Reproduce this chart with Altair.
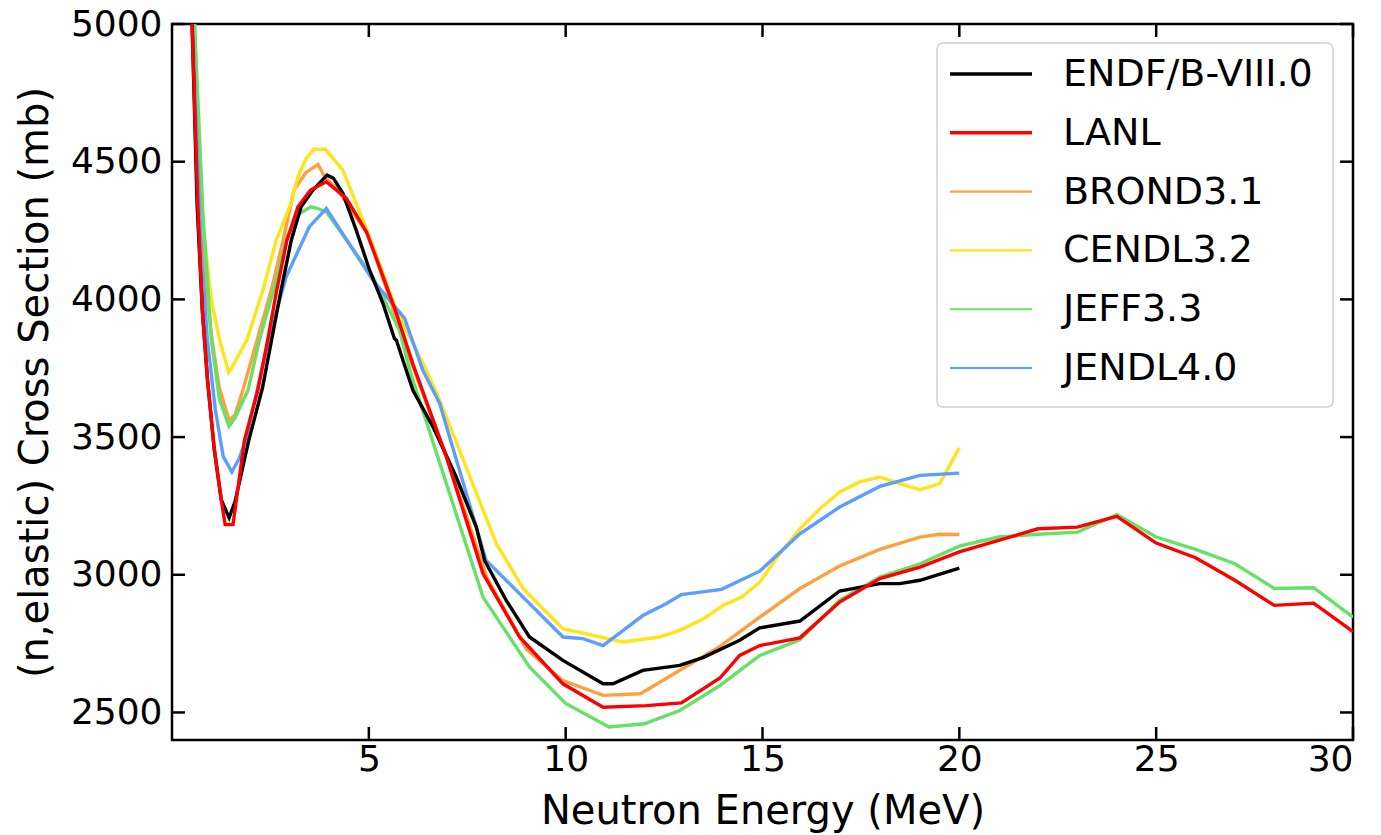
import altair as alt
import pandas as pd

# ---------------- data ----------------
names = ["ENDF/B-VIII.0", "LANL", "BROND3.1", "CENDL3.2", "JEFF3.3", "JENDL4.0"]
colors = ["#000000", "#ff0000", "#ffa040", "#ffe41a", "#66e066", "#5c9dff"]
widths = [3.4, 3.4, 2.1, 2.1, 2.1, 2.1]

endf_e = [0.40, 0.51, 0.64, 0.77, 0.90, 1.07, 1.25, 1.45, 1.60, 1.95, 2.30, 2.77, 3.03, 3.28,
          3.58, 3.94, 4.10, 4.34, 4.68, 5.02, 5.36, 5.65, 5.70, 5.95, 6.12, 6.63, 7.22, 7.73,
          7.94, 8.49, 9.08, 9.93, 10.95, 11.20, 11.96, 12.90, 13.50, 14.42, 14.93, 15.95,
          16.96, 17.98, 18.49, 19.00, 20.00]
endf_xs = [5350, 5000, 4336, 3961, 3711, 3460, 3273, 3207, 3265, 3488, 3680, 4033, 4215, 4336,
           4397, 4451, 4440, 4385, 4251, 4106, 3985, 3858, 3852, 3743, 3670, 3537, 3355, 3173,
           3052, 2907, 2774, 2689, 2604, 2604, 2653, 2671, 2700, 2762, 2807, 2832,
           2941, 2968, 2968, 2980, 3024]

lanl_e = [0.40, 0.51, 0.66, 0.77, 0.90, 1.07, 1.25, 1.35, 1.55, 1.84, 2.18, 2.43, 2.66, 2.92,
          3.20, 3.52, 3.92, 4.43, 4.94, 5.27, 5.70, 6.12, 6.97, 7.90, 8.83, 9.93, 10.95, 12.05,
          12.94, 13.92, 14.42, 14.93, 15.95, 16.96, 17.98, 19.00, 20.00, 21.00, 22.00, 23.00,
          24.00, 25.00, 26.00, 27.00, 28.00, 29.00, 30.00]
lanl_xs = [5400, 5000, 4324, 3961, 3711, 3460, 3273, 3182, 3182, 3488, 3670, 3852, 4033, 4215,
           4336, 4397, 4427, 4367, 4245, 4118, 3949, 3765, 3428, 3004, 2774, 2604, 2519, 2525,
           2535, 2625, 2707, 2743, 2771, 2901, 2986, 3028, 3083, 3125, 3167, 3173,
           3212, 3115, 3062, 2980, 2889, 2897, 2794]

brond_e = [0.45, 0.57, 0.70, 0.85, 1.02, 1.20, 1.45, 1.60, 1.80, 2.16, 2.52, 2.80, 3.10, 3.40,
           3.71, 3.90, 4.20, 5.00, 6.00, 7.00, 8.00, 9.00, 9.93, 10.95, 11.90, 12.90, 13.92,
           14.93, 15.95, 16.96, 17.98, 19.00, 19.50, 20.00]
brond_xs = [5300, 5000, 4400, 4050, 3852, 3680, 3561, 3580, 3670, 3852, 4033, 4200, 4397, 4460,
            4490, 4440, 4400, 4230, 3800, 3420, 2990, 2730, 2616, 2562, 2568, 2653, 2740,
            2846, 2950, 3032, 3092, 3137, 3147, 3146]

cendl_e = [0.45, 0.57, 0.80, 1.00, 1.21, 1.44, 1.55, 1.90, 2.31, 2.65, 3.00, 3.20, 3.40, 3.60,
           3.90, 4.10, 4.34, 5.02, 5.70, 6.46, 6.80, 8.24, 8.92, 9.93, 11.45, 12.38, 12.90,
           13.50, 14.00, 14.47, 14.93, 15.44, 15.95, 16.46, 16.96, 17.47, 17.98, 18.49, 19.00,
           19.50, 20.00]
cendl_xs = [5400, 5000, 4250, 4000, 3852, 3735, 3760, 3852, 4033, 4215, 4340, 4445, 4510, 4545,
            4545, 4510, 4469, 4227, 3961, 3743, 3634, 3113, 2950, 2804, 2756, 2774, 2798,
            2840, 2889, 2919, 2973, 3077, 3167, 3240, 3301, 3337, 3355, 3331, 3309,
            3331, 3461]

jeff_e = [0.45, 0.57, 0.78, 1.00, 1.20, 1.45, 1.60, 1.93, 2.22, 2.58, 2.92, 3.24, 3.53, 3.70,
          3.92, 5.10, 5.78, 6.04, 6.37, 7.90, 9.08, 10.00, 11.10, 12.00, 12.90, 13.92, 14.93,
          15.95, 16.96, 17.98, 19.00, 20.00, 21.00, 22.00, 23.00, 24.00, 25.00, 26.00, 27.00,
          28.00, 29.00, 30.00]
jeff_xs = [5450, 5000, 4324, 3852, 3640, 3539, 3570, 3670, 3852, 4033, 4227, 4312, 4336, 4330,
           4318, 4082, 3888, 3743, 3597, 2919, 2665, 2533, 2447, 2459, 2507, 2598, 2707,
           2764, 2907, 2992, 3040, 3104, 3137, 3147, 3155, 3218, 3137, 3092, 3040,
           2950, 2953, 2846]

jendl_e = [0.40, 0.52, 0.65, 0.75, 0.90, 1.10, 1.30, 1.52, 1.70, 1.87, 2.45, 2.90, 3.49, 3.92,
           5.10, 5.91, 6.37, 6.80, 7.98, 9.00, 9.93, 10.44, 10.95, 11.96, 12.55, 12.94, 13.96,
           14.93, 15.95, 16.96, 17.98, 19.00, 20.00]
jendl_xs = [5400, 5000, 4500, 4150, 3852, 3600, 3430, 3373, 3420, 3488, 3852, 4082, 4264, 4330,
            4070, 3931, 3743, 3622, 3052, 2907, 2774, 2768, 2743, 2852, 2895, 2928, 2947,
            3013, 3149, 3246, 3321, 3361, 3369]

x_ticks = [5, 10, 15, 20, 25, 30]
y_ticks = [2500, 3000, 3500, 4000, 4500, 5000]

# ---------------- build tables ----------------
series = [
    (names[0], endf_e, endf_xs),
    (names[1], lanl_e, lanl_xs),
    (names[2], brond_e, brond_xs),
    (names[3], cendl_e, cendl_xs),
    (names[4], jeff_e, jeff_xs),
    (names[5], jendl_e, jendl_xs),
]
rows = []
for name, es, vs in series:
    for i, (e, v) in enumerate(zip(es, vs)):
        rows.append({"lib": name, "E": e, "xs": v, "order": i})
df = pd.DataFrame(rows)

W, H = 1181, 716
TL = 13
FONT = "DejaVu Sans"

xscale = alt.Scale(domain=[0, 30], nice=False, zero=False)
yscale = alt.Scale(domain=[2400, 5000], nice=False, zero=False)
cscale = alt.Scale(domain=names, range=colors)
wscale = alt.Scale(domain=names, range=widths)

xaxis = alt.Axis(values=x_ticks, format="d", title="Neutron Energy (MeV)", ticks=False,
                 domain=False, grid=False, labelFontSize=36, titleFontSize=40,
                 labelPadding=2, titlePadding=14, labelColor="black", titleColor="black",
                 labelFont=FONT, titleFont=FONT, titleFontWeight="normal")
yaxis = alt.Axis(values=y_ticks, format="d", title="(n,elastic) Cross Section (mb)",
                 ticks=False, domain=False, grid=False, labelFontSize=36, titleFontSize=40,
                 labelPadding=10, titlePadding=15, labelColor="black", titleColor="black",
                 labelFont=FONT, titleFont=FONT, titleFontWeight="normal")


def lines(sub):
    return alt.Chart(df[df["lib"].isin(sub)]).mark_line(clip=True).encode(
        x=alt.X("E:Q", scale=xscale, axis=xaxis),
        y=alt.Y("xs:Q", scale=yscale, axis=yaxis),
        color=alt.Color("lib:N", scale=cscale, legend=None),
        strokeWidth=alt.StrokeWidth("lib:N", scale=wscale, legend=None),
        detail="lib:N",
        order="order:Q",
    )


thin = lines(names[2:])
black = lines([names[0]])
red = lines([names[1]])

xt = pd.DataFrame({"t": x_ticks})
yt = pd.DataFrame({"t": y_ticks})
tick_style = dict(color="black", strokeWidth=2.5)

xb = alt.Chart(xt).mark_rule(**tick_style).encode(
    x=alt.X("t:Q", scale=xscale, axis=xaxis), y=alt.value(H - TL), y2=alt.value(H))
xtop = alt.Chart(xt).mark_rule(**tick_style).encode(
    x=alt.X("t:Q", scale=xscale, axis=xaxis), y=alt.value(0), y2=alt.value(TL))
yl = alt.Chart(yt).mark_rule(**tick_style).encode(
    y=alt.Y("t:Q", scale=yscale, axis=yaxis), x=alt.value(0), x2=alt.value(TL))
yr = alt.Chart(yt).mark_rule(**tick_style).encode(
    y=alt.Y("t:Q", scale=yscale, axis=yaxis), x=alt.value(W - TL), x2=alt.value(W))

# ---------------- legend (matplotlib-style box) ----------------
LX0, LY0, LX1, LY1 = 765, 19, 1161, 383
ROW0, ROWGAP = 50, 58.8
one = pd.DataFrame({"k": [0]})
legend_layers = [
    alt.Chart(one).mark_rect(fill="white", stroke="#d0d0d0", strokeWidth=1.5,
                             cornerRadius=6).encode(
        x=alt.value(LX0), x2=alt.value(LX1), y=alt.value(LY0), y2=alt.value(LY1))
]
for i, (nm, col, w) in enumerate(zip(names, colors, widths)):
    yy = ROW0 + i * ROWGAP
    legend_layers.append(
        alt.Chart(one).mark_rule(color=col, strokeWidth=w).encode(
            x=alt.value(778), x2=alt.value(860), y=alt.value(yy)))
    legend_layers.append(
        alt.Chart(one).mark_text(align="left", baseline="middle", fontSize=38, font=FONT,
                                 color="black").encode(
            x=alt.value(891), y=alt.value(yy + 1), text=alt.value(nm)))

chart = alt.layer(thin, black, red, xb, xtop, yl, yr, *legend_layers).properties(
    width=W, height=H,
    autosize=alt.AutoSizeParams(type="none"),
    padding={"left": 172, "top": 24, "right": 28, "bottom": 95},
).configure(
    background="white",
    view=alt.ViewConfig(stroke="black", strokeWidth=2.5),
)

chart.save("out.html", embed_options={"renderer": "svg", "actions": False})
